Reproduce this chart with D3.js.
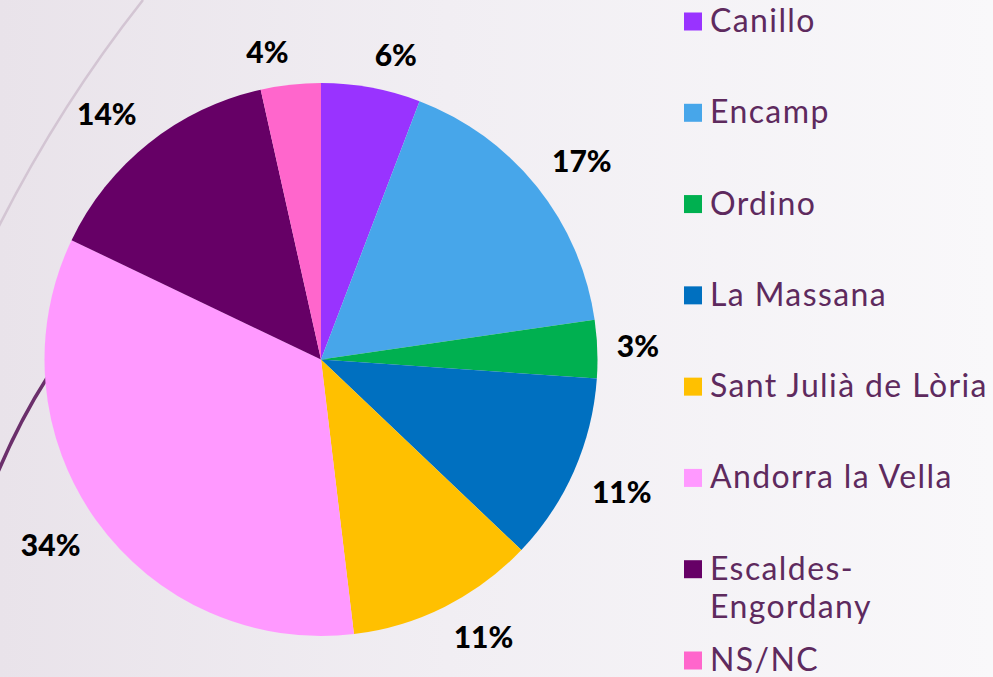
<!DOCTYPE html>
<html>
<head>
<meta charset="utf-8">
<script src="https://cdn.jsdelivr.net/npm/d3@7"></script>
<style>
  html, body { margin: 0; padding: 0; overflow: hidden; }
  #pie { width: 993px; height: 677px; }
</style>
</head>
<body>
<div id="pie"></div>
<script>
const width = 993;
const height = 677;

const parishes = ["Canillo", "Encamp", "Ordino", "La Massana", "Sant Julià de Lòria", "Andorra la Vella", "Escaldes-Engordany", "NS/NC"];
const shares = [5.8, 16.9, 3.4, 11.0, 11.0, 34.0, 14.4, 3.5];
const colors = ["#9933ff", "#47a6ea", "#00b050", "#0070c0", "#ffc000", "#ff99ff", "#660066", "#ff66cc"];
// legend lines (Escaldes wraps in two)
const legendLines = [["Canillo"], ["Encamp"], ["Ordino"], ["La Massana"], ["Sant Julià de Lòria"], ["Andorra la Vella"], ["Escaldes-", "Engordany"], ["NS/NC"]];

const cx = 321, cy = 359.5, radius = 276.5;

const svg = d3.select("#pie").append("svg")
  .attr("width", width)
  .attr("height", height);

const grad = svg.append("defs").append("linearGradient")
  .attr("id", "bg").attr("x1", "0").attr("y1", "0").attr("x2", "1").attr("y2", "0");
grad.append("stop").attr("offset", "0").attr("stop-color", "#e9e3ea");
grad.append("stop").attr("offset", "0.45").attr("stop-color", "#f1eef3");
grad.append("stop").attr("offset", "1").attr("stop-color", "#f9f8fa");

svg.append("rect").attr("width", width).attr("height", height).attr("fill", "url(#bg)");

// decorative curves on the left
svg.append("path")
  .attr("d", "M143,0 Q60,105 -2,228")
  .attr("fill", "none").attr("stroke", "#d3c5d3").attr("stroke-width", 2.5);
svg.append("path")
  .attr("d", "M47,378 Q20,420 -2,472")
  .attr("fill", "none").attr("stroke", "#6b2f6b").attr("stroke-width", 3.5);

const g = svg.append("g").attr("transform", `translate(${cx}, ${cy})`);

const pie = d3.pie().sort(null).value(d => d)(shares);
const arc = d3.arc().innerRadius(0).outerRadius(radius);

g.selectAll("path.slice")
  .data(pie)
  .join("path")
  .attr("class", "slice")
  .attr("d", arc)
  .attr("fill", (d, i) => colors[i]);

// percentage labels: nearest corner of the label box sits on the mid-angle ray
const labelSize = 30;
const labelGap = 296;
const boxH = 27;
const clamp = v => Math.max(-1, Math.min(1, v));
g.selectAll("text.pct")
  .data(pie)
  .join("text")
  .attr("class", "pct")
  .attr("text-anchor", "middle")
  .style("font-family", "'Lato', 'DejaVu Sans', sans-serif")
  .style("font-weight", "900")
  .style("font-size", labelSize + "px")
  .style("fill", "#000")
  .text(d => Math.round(d.value) + "%")
  .each(function(d) {
    const a = (d.startAngle + d.endAngle) / 2;
    const w = this.getBBox().width;
    const s = Math.sin(a), c = -Math.cos(a);
    const x = s * labelGap + clamp(s / 0.05) * w / 2;
    const y = c * labelGap + clamp(c / 0.2) * boxH / 2;
    d3.select(this).attr("x", x).attr("y", y + labelSize * 0.36);
  });

// legend
const legend = svg.append("g").attr("transform", "translate(684, 0)");
const rowY = d3.scaleLinear().domain([0, 7]).range([21.5, 660.5]);

const rows = legend.selectAll("g.row")
  .data(parishes)
  .join("g")
  .attr("class", "row")
  .attr("transform", (d, i) => `translate(0, ${rowY(i)})`);

rows.append("rect")
  .attr("x", 0).attr("y", -9)
  .attr("width", 18).attr("height", 18)
  .attr("fill", (d, i) => colors[i]);

rows.append("text")
  .attr("x", 26)
  .attr("y", 10.5)
  .style("font-family", "'Lato', 'Noto Sans', sans-serif")
  .style("font-size", "32px")
  .style("letter-spacing", "1.4px")
  .style("fill", "#5e2a5e")
  .selectAll("tspan")
  .data((d, i) => legendLines[i])
  .join("tspan")
  .attr("x", 26)
  .attr("dy", (d, j) => j === 0 ? 0 : 38)
  .text(d => d);
</script>
</body>
</html>
